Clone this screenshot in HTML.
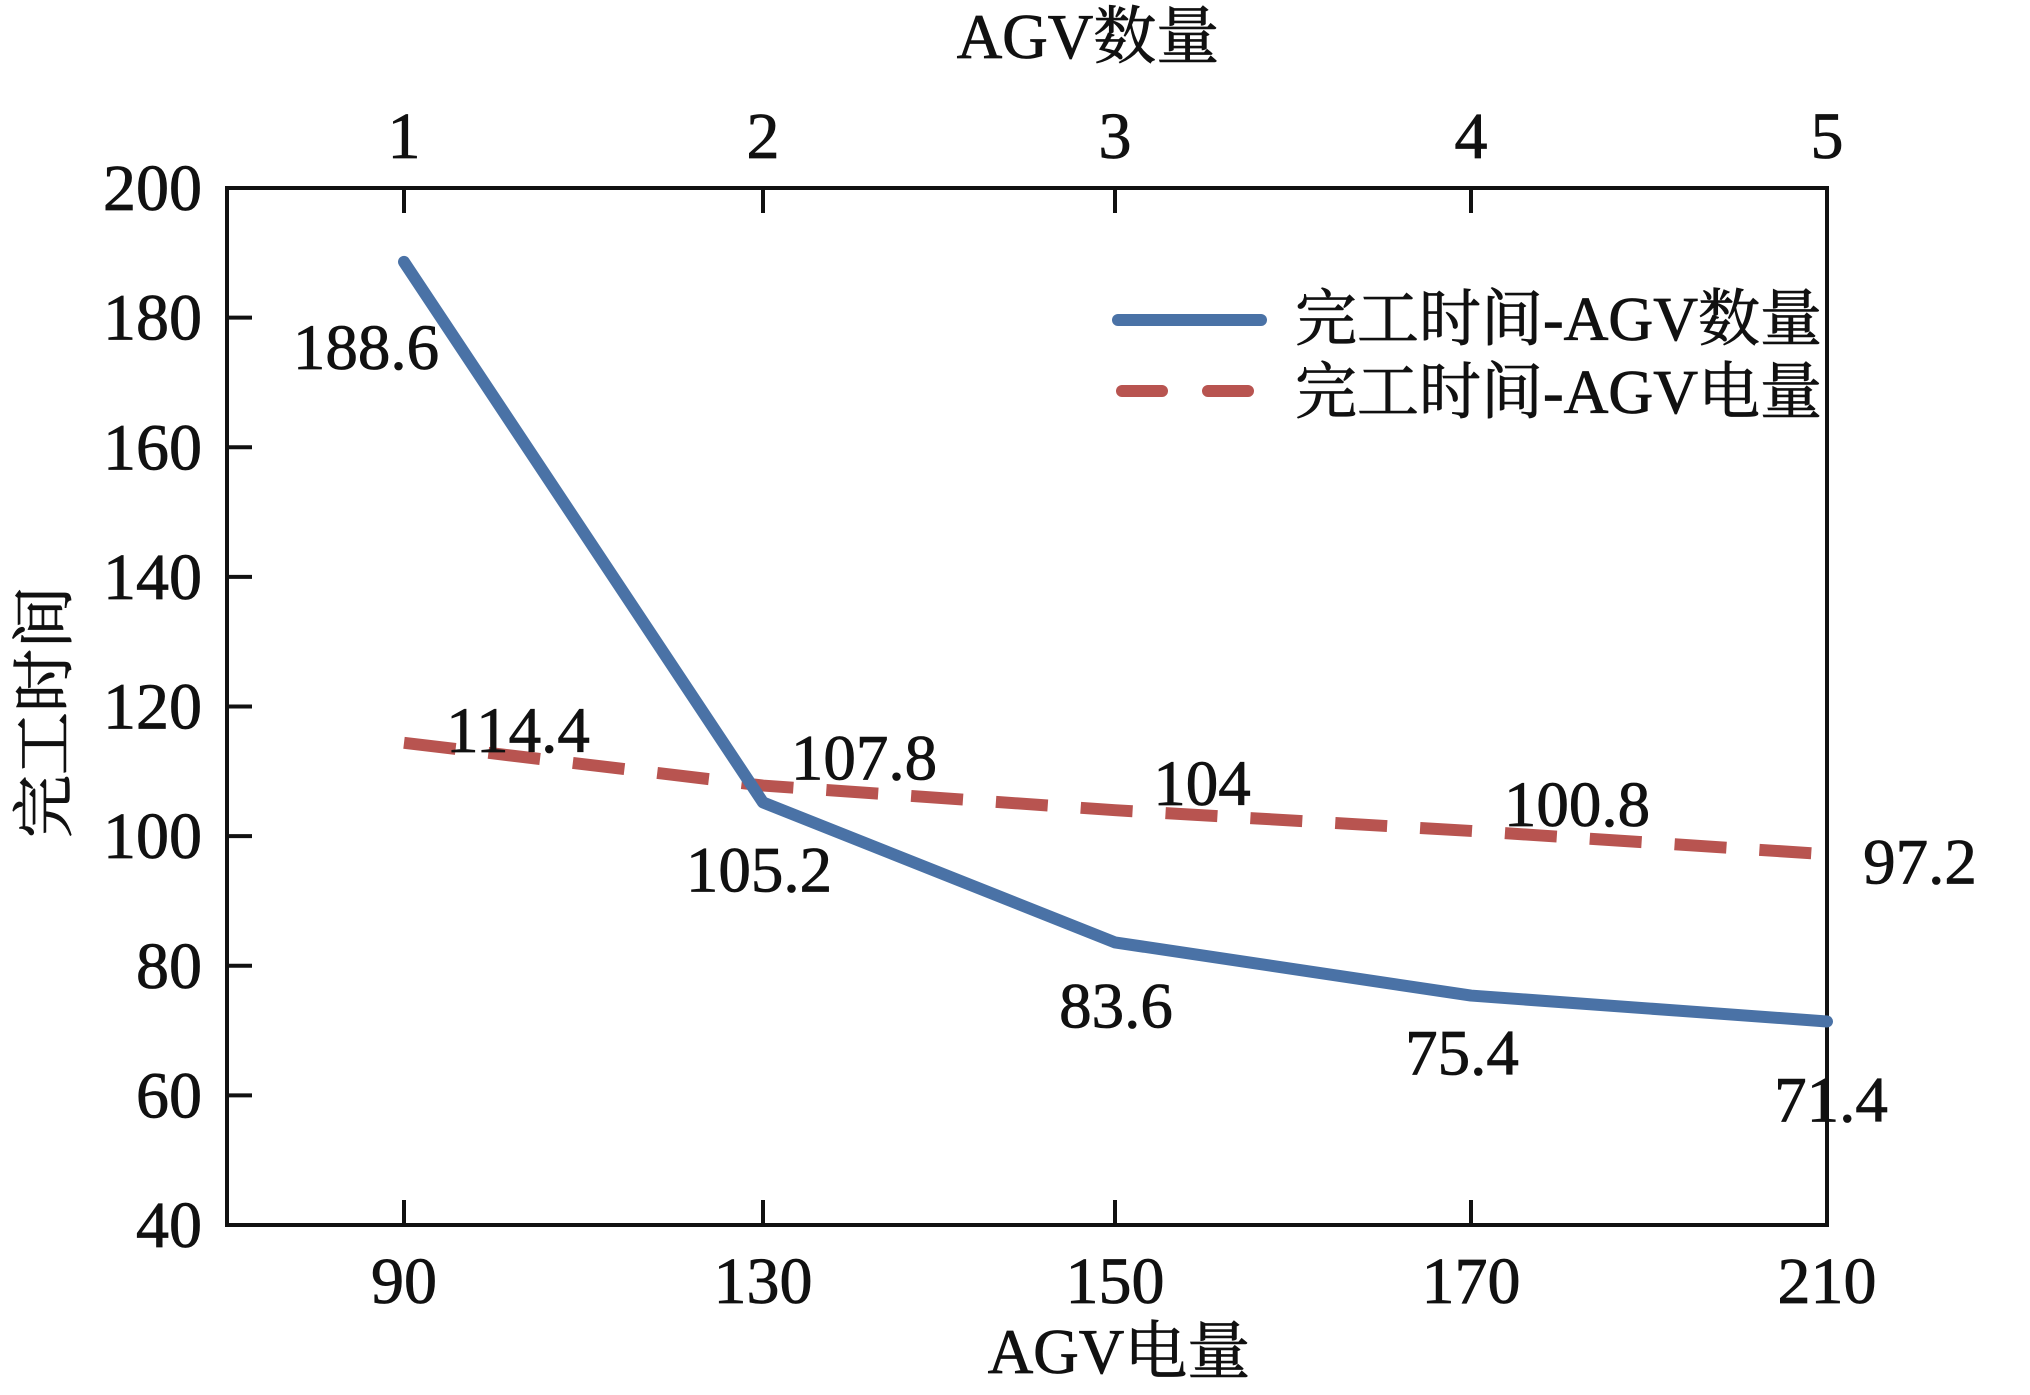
<!DOCTYPE html>
<html><head><meta charset="utf-8"><style>
html,body{margin:0;padding:0;background:#fff;}
svg text{font-family:"Liberation Serif","Noto Serif CJK SC",serif;fill:#111;stroke:#111;stroke-width:0.8;}
</style></head><body>
<svg id="chart" width="2030" height="1390" viewBox="0 0 2030 1390" xmlns="http://www.w3.org/2000/svg">
<g id="axes"></g><g id="series"></g><g id="labels"></g>
<g>
  <line x1="1118" y1="320" x2="1261" y2="320" stroke="#4a72a6" stroke-width="12" stroke-linecap="round"/>
  <text x="1295" y="340" font-size="62">完工时间-AGV数量</text>
  <line x1="1122" y1="391" x2="1261" y2="391" stroke="#b85450" stroke-width="12" stroke-linecap="round" stroke-dasharray="40,46"/>
  <text x="1295" y="413" font-size="62">完工时间-AGV电量</text>
</g>
<text x="1088" y="58" font-size="63" text-anchor="middle">AGV数量</text>
<text x="1119" y="1373" font-size="63" text-anchor="middle">AGV电量</text>
<text transform="translate(66,712) rotate(-90)" font-size="63" text-anchor="middle">完工时间</text>
</svg>
<script>
const categories = [90, 130, 150, 170, 210];
const topCategories = [1, 2, 3, 4, 5];
const countSeries = [188.6, 105.2, 83.6, 75.4, 71.4];
const batterySeries = [114.4, 107.8, 104, 100.8, 97.2];
const yTicks = [40, 60, 80, 100, 120, 140, 160, 180, 200];
const countLabelOffsets = [[-38,107],[-4,89],[1,85],[-9,79],[4,100]];
const batteryLabelOffsets = [[114,9],[101,-6],[87,-5],[106,-5],[93,29]];

const NS = "http://www.w3.org/2000/svg";
const L = 227, R = 1827, T = 188, B = 1225;
const xPix = [404, 763, 1115, 1471, 1827];
function xScale(i){ return xPix[i]; }
function yScale(v){ return B - (v - 40) / (200 - 40) * (B - T); }
function mk(tag, attrs, parent){
  const e = document.createElementNS(NS, tag);
  for (const k in attrs) e.setAttribute(k, attrs[k]);
  parent.appendChild(e); return e;
}
const axes = document.getElementById('axes');
const frame = mk('rect', {x:L, y:T, width:R-L, height:B-T, fill:'none', stroke:'#111', 'stroke-width':4}, axes);


yTicks.forEach(v => {
  const y = yScale(v);
  const t = mk('line', {x1:L, y1:y, x2:L+25, y2:y, stroke:'#111', 'stroke-width':4}, axes);
  
  
  const tx = mk('text', {x:202, y:y+22, 'font-size':66, 'text-anchor':'end'}, axes);
  tx.textContent = v;
  
  
});
categories.forEach((c, i) => {
  const x = xScale(i);
  const b = mk('line', {x1:x, y1:B, x2:x, y2:B-25, stroke:'#111', 'stroke-width':4}, axes);
  
  
  const t = mk('line', {x1:x, y1:T, x2:x, y2:T+25, stroke:'#111', 'stroke-width':4}, axes);
  
  
  const bl = mk('text', {x:x, y:1303, 'font-size':66, 'text-anchor':'middle'}, axes);
  bl.textContent = c;
  
  
  const tl = mk('text', {x:x, y:158, 'font-size':66, 'text-anchor':'middle'}, axes);
  tl.textContent = topCategories[i];
  
  
});
const series = document.getElementById('series');
const pts = arr => arr.map((v, i) => xScale(i) + ',' + yScale(v)).join(' ');
const bat = mk('polyline', {points:pts(batterySeries), fill:'none', stroke:'#b85450', 'stroke-width':12, 'stroke-dasharray':'52,33'}, series);


const cnt = mk('polyline', {points:pts(countSeries), fill:'none', stroke:'#4a72a6', 'stroke-width':12, 'stroke-linecap':'round', 'stroke-linejoin':'round'}, series);


const labels = document.getElementById('labels');
countSeries.forEach((v, i) => {
  const t = mk('text', {x:xScale(i)+countLabelOffsets[i][0], y:yScale(v)+countLabelOffsets[i][1], 'font-size':65, 'text-anchor':'middle'}, labels);
  t.textContent = v;
  
  
});
batterySeries.forEach((v, i) => {
  const t = mk('text', {x:xScale(i)+batteryLabelOffsets[i][0], y:yScale(v)+batteryLabelOffsets[i][1], 'font-size':65, 'text-anchor':'middle'}, labels);
  t.textContent = v;
  
  
});
</script>
</body></html>
